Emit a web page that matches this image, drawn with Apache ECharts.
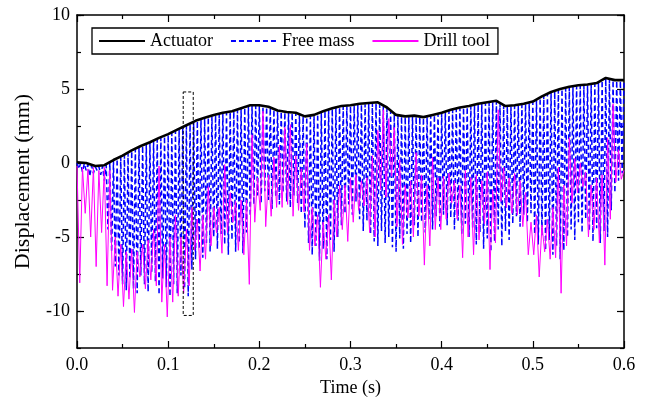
<!DOCTYPE html>
<html><head><meta charset="utf-8">
<script src="https://cdn.jsdelivr.net/npm/echarts@6/dist/echarts.min.js"></script>
<style>html,body{margin:0;padding:0;background:#fff}#c{width:649px;height:403px}</style>
</head><body><div id="c"></div>
<script>
// ---- data ----
const SERIES_NAMES = ['Actuator', 'Free mass', 'Drill tool'];
const X_TICKS = [0, 0.1, 0.2, 0.3, 0.4, 0.5, 0.6];
const Y_TICKS = [-10, -5, 0, 5, 10];

// Actuator displacement (mm), sampled every 0.01 s
const ACT_TIME = [0,0.01,0.02,0.03,0.04,0.05,0.06,0.07,0.08,0.09,0.10,0.11,0.12,0.13,0.14,0.15,0.16,0.17,0.18,0.19,0.20,
  0.21,0.22,0.23,0.24,0.25,0.26,0.27,0.28,0.29,0.30,0.31,0.32,0.33,0.34,0.35,0.36,0.37,0.38,0.39,0.40,
  0.41,0.42,0.43,0.44,0.45,0.46,0.47,0.48,0.49,0.50,0.51,0.52,0.53,0.54,0.55,0.56,0.57,0.58,0.59,0.60];
const ACT_DISP = [0.05,0.0,-0.2,-0.15,0.2,0.5,0.85,1.15,1.4,1.7,1.95,2.25,2.55,2.85,3.05,3.25,3.4,3.5,3.7,3.9,3.9,
  3.8,3.55,3.45,3.4,3.15,3.25,3.5,3.7,3.85,3.9,4.0,4.05,4.1,3.75,3.25,3.15,3.2,3.1,3.25,3.4,
  3.6,3.75,3.85,4.0,4.1,4.2,3.85,3.9,4.0,4.15,4.5,4.8,5.0,5.15,5.25,5.3,5.4,5.75,5.6,5.6];

// Free mass displacement (mm), sampled every FM_DT seconds from t = 0
const FM_DT = 0.002;
const FREE_MASS = [
  0.0,-0.4, -0.02,-0.6, -0.04,-0.5, -0.09,-0.9, -0.17,-0.7,
  -0.25,-0.5, -0.23,-0.8, -0.21,-1.2, -0.13,-4.5, 0.01,-6.0,
  0.15,-7.0, 0.27,-7.6, 0.39,-8.2, 0.52,-8.6, 0.66,-7.8,
  0.8,-8.5, 0.92,-8.8, 1.04,-7.6, 1.15,-8.2, 1.25,-8.7,
  1.35,-7.4, 1.47,-8.0, 1.59,-8.9, 1.7,-7.8, 1.8,-8.4,
  1.9,-9.0, 2.02,-8.2, 2.14,-8.8, 2.26,-7.6, 2.38,-8.5,
  2.5,-9.0, 2.62,-7.2, 2.74,-6.5, 2.84,-5.8, 2.92,-6.4,
  3.0,-5.4, 3.08,-6.0, 3.16,-5.0, 3.23,-5.8, 3.29,-4.8,
  3.35,-5.5, 3.39,-6.2, 3.43,-5.2, 3.49,-6.0, 3.57,-5.4,
  3.65,-6.1, 3.73,-4.7, 3.81,-3.6, 3.85,-2.8, 3.85,-2.2,
  3.85,-2.7, 3.81,-1.9, 3.77,-2.5, 3.7,-3.1, 3.6,-2.3,
  3.5,-2.8, 3.46,-2.0, 3.42,-2.6, 3.39,-3.0, 3.37,-2.2,
  3.35,-2.7, 3.25,-3.4, 3.15,-4.4, 3.11,-5.4, 3.15,-6.2,
  3.2,-5.6, 3.3,-6.6, 3.4,-5.8, 3.51,-6.5, 3.59,-5.2,
  3.65,-6.0, 3.71,-5.0, 3.77,-4.2, 3.81,-3.4, 3.83,-2.8,
  3.85,-3.5, 3.89,-2.6, 3.93,-3.8, 3.95,-4.6, 3.97,-3.9,
  4.0,-4.8, 4.02,-5.3, 4.04,-5.6, 3.95,-4.6, 3.81,-5.4,
  3.7,-5.0, 3.5,-5.7, 3.3,-6.0, 3.18,-5.1, 3.14,-5.8,
  3.1,-4.8, 3.12,-5.4, 3.14,-4.2, 3.13,-5.0, 3.09,-4.0,
  3.05,-4.7, 3.11,-3.8, 3.17,-4.5, 3.24,-3.6, 3.3,-4.3,
  3.35,-3.5, 3.43,-4.2, 3.51,-3.7, 3.59,-4.5, 3.64,-3.9,
  3.7,-4.8, 3.74,-4.1, 3.78,-5.0, 3.84,-4.4, 3.9,-5.5,
  3.95,-4.7, 3.99,-5.8, 4.03,-5.1, 4.07,-6.0, 4.11,-5.3,
  4.15,-4.5, 4.01,-5.6, 3.87,-4.6, 3.81,-5.2, 3.82,-4.1,
  3.85,-3.6, 3.89,-4.3, 3.91,-3.5, 3.99,-4.0, 4.05,-3.4,
  4.1,-4.8, 4.24,-5.5, 4.38,-4.9, 4.55,-5.9, 4.67,-5.2,
  4.75,-6.2, 4.83,-5.6, 4.91,-6.5, 4.99,-5.9, 5.05,-5.0,
  5.1,-4.5, 5.14,-5.2, 5.18,-4.0, 5.21,-4.7, 5.23,-3.8,
  5.25,-4.6, 5.29,-5.3, 5.33,-4.4, 5.42,-5.4, 5.56,-4.6,
  5.7,-5.0, 5.64,-3.2, 5.58,-2.0, 5.55,-1.2, 5.55,-0.7,
  5.55];

// Drill tool displacement (mm), sampled every DT_DT seconds from t = 0
const DT_DT = 0.003;
const DRILL_TOOL = [-0.2,-8.1,-0.3,-3.4,-0.4,-5.0,-0.3,-7.0,-0.5,-4.7,-0.3,
  -8.3,-0.5,-8.6,-5.0,-9.0,-5.5,-9.7,-6.0,-9.2,-5.8,
  -10.1,-6.0,-7.7,-5.5,-8.5,-5.2,-7.9,-4.5,-8.3,-0.2,
  -9.4,-5.5,-10.4,-5.0,-9.4,-3.5,-9.0,-5.0,-8.8,-4.5,
  -8.3,-3.0,-5.9,-3.8,-7.3,-3.5,-6.5,-1.6,-5.6,-3.0,
  -4.7,-3.0,-6.1,-0.1,-4.7,-2.0,-4.0,-2.6,-5.9,-2.5,
  -6.2,-2.5,-8.2,1.9,-4.0,-1.0,-3.2,3.5,-4.3,-0.8,
  -3.6,0.4,-3.0,1.2,-3.0,2.4,-2.8,2.6,-3.6,0.5,
  -3.2,-0.4,-3.3,1.3,-5.9,-3.0,-5.6,-3.5,-8.4,-4.0,
  -6.5,-3.5,-7.9,-2.5,-5.0,-1.5,-4.5,-1.5,-5.3,-1.0,
  -4.0,-0.8,-3.2,-1.2,-2.9,-1.0,-4.7,0.5,-5.0,2.2,
  -1.8,3.6,-2.3,3.0,-0.9,2.4,-4.3,0.2,-5.5,-1.5,
  -3.7,-1.2,-5.0,0.7,-3.6,-0.8,-6.9,-1.5,-5.6,0.4,
  -4.5,-1.0,-4.5,-0.9,-3.8,-0.7,-2.7,-1.2,-3.8,-1.5,
  -6.4,-0.5,-5.0,-1.0,-6.2,-0.8,-5.2,-1.2,-4.1,-0.6,
  -7.2,-1.8,-5.4,3.6,-2.6,-0.3,-3.0,-1.0,-3.4,-0.7,
  -3.5,-1.2,-4.3,-2.0,-6.2,-4.0,-6.2,-3.5,-7.7,-4.2,
  -6.0,-3.8,-6.5,-3.0,-6.4,-0.3,-8.8,-1.5,-5.6,1.7,
  -2.7,0.3,-2.0,0.0,-1.6,-0.6,-5.0,-1.5,-4.5,-1.0,
  -5.4,-0.8,-6.9,1.7,-3.8,4.0,-1.3,0.9,-1.1,-0.5];

// dashed highlight box: [t0, t1] x [disp0, disp1]
const BOX_TIME = [0.1165, 0.1275];
const BOX_DISP = [4.8, -10.3];

// ---- chart ----
const FONT = 'Liberation Serif';
const sampled = (arr, dt) => arr.map((v, i) => [+(i * dt).toFixed(4), v]);
const txt = {color: '#000', fontFamily: FONT, fontSize: 18};
const axLine = {show: true, onZero: false, lineStyle: {color: '#000', width: 1.5}};

function xAx(pos, labels) {
  return {
    type: 'value', position: pos, min: X_TICKS[0], max: X_TICKS[X_TICKS.length - 1], interval: 0.1,
    axisLine: axLine,
    axisTick: {show: true, inside: true, length: 7, lineStyle: {color: '#000', width: 1.2}},
    minorTick: {show: true, splitNumber: 2, length: 4, lineStyle: {color: '#000', width: 1.2}},
    splitLine: {show: false}, minorSplitLine: {show: false},
    axisLabel: labels ? Object.assign({show: true, margin: 8, formatter: v => v.toFixed(1)}, txt) : {show: false},
    name: labels ? 'Time (s)' : '', nameLocation: 'middle', nameGap: 30, nameTextStyle: txt
  };
}
function yMinor(pos, labels) {
  return {
    type: 'value', position: pos, min: -12.5, max: 10, interval: 2.5,
    axisLine: axLine,
    axisTick: {show: true, inside: true, length: 4, lineStyle: {color: '#000', width: 1.2}},
    splitLine: {show: false},
    axisLabel: labels ? Object.assign({show: true, margin: 7,
      formatter: v => (Math.abs(v % 5) < 1e-9 ? String(v) : '')}, txt) : {show: false},
    name: labels ? 'Displacement (mm)' : '', nameLocation: 'middle', nameGap: 43, nameRotate: 90,
    nameTextStyle: Object.assign({}, txt, {fontSize: 22})
  };
}
function yMajor(pos) {
  return {
    type: 'value', position: pos, min: -12.5, max: 10,
    axisLine: {show: false, onZero: false},
    axisTick: {show: true, inside: true, length: 7, customValues: Y_TICKS, lineStyle: {color: '#000', width: 1.2}},
    splitLine: {show: false}, axisLabel: {show: false}
  };
}

const chart = echarts.init(document.getElementById('c'), null, {renderer: 'canvas'});
chart.setOption({
  animation: false,
  backgroundColor: '#fff',
  grid: {left: 77, right: 25, top: 15, bottom: 55, containLabel: false},
  legend: {
    data: SERIES_NAMES, left: 92, top: 28, orient: 'horizontal',
    itemWidth: 46, itemHeight: 12, itemGap: 17,
    padding: [4, 8, 4, 6], borderColor: '#000', borderWidth: 1.3, borderRadius: 0,
    itemStyle: {color: 'rgba(0,0,0,0)', borderWidth: 0, opacity: 0},
    textStyle: {color: '#000', fontFamily: FONT, fontSize: 18}
  },
  xAxis: [xAx('bottom', true), xAx('top', false)],
  yAxis: [yMinor('left', true), yMajor('left'), yMinor('right', false), yMajor('right')],
  series: [
    {name: SERIES_NAMES[1], type: 'line', symbol: 'none', data: sampled(FREE_MASS, FM_DT), z: 2,
      lineStyle: {color: '#0000ff', width: 1.5, type: [5, 3]}, itemStyle: {color: '#0000ff'}},
    {name: SERIES_NAMES[2], type: 'line', symbol: 'none', data: sampled(DRILL_TOOL, DT_DT), z: 3,
      lineStyle: {color: '#ff00ff', width: 1}, itemStyle: {color: '#ff00ff'}},
    {name: SERIES_NAMES[0], type: 'line', symbol: 'none', z: 4,
      data: ACT_TIME.map((t, i) => [t, ACT_DISP[i]]),
      lineStyle: {color: '#000', width: 2.6}, itemStyle: {color: '#000'},
      markArea: {silent: true, z: 10,
        itemStyle: {color: 'rgba(0,0,0,0)', borderColor: '#000', borderWidth: 1, borderType: [3, 2]},
        data: [[{xAxis: BOX_TIME[0], yAxis: BOX_DISP[0]}, {xAxis: BOX_TIME[1], yAxis: BOX_DISP[1]}]]}}
  ]
});
</script></body></html>
